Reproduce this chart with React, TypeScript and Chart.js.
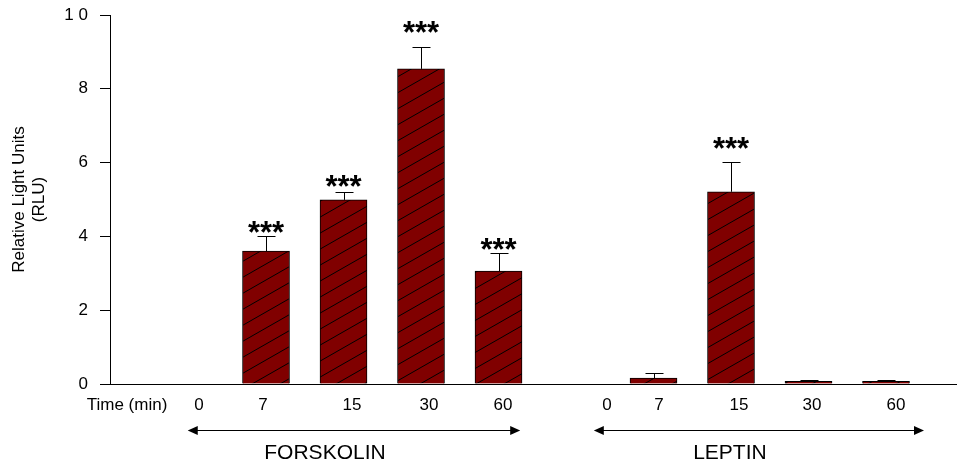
import React, { useEffect, useRef } from "react";
import { Chart, registerables } from "chart.js";

Chart.register(...registerables);

// ---------- data ----------
const axisLabel = "Time (min)";
const forskolinTimes = ["0", "7", "15", "30", "60"];
const leptinTimes = ["0", "7", "15", "30", "60"];
const forskolinValues = [0, 3.6, 4.99, 8.54, 3.06];
const forskolinErrors = [0, 0.4, 0.21, 0.6, 0.5];
const leptinValues = [0, 0.16, 5.21, 0.07, 0.07];
const leptinErrors = [0, 0.15, 0.8, 0.05, 0.05];
const forskolinSignificant = [false, true, true, true, true];
const leptinSignificant = [false, false, true, false, false];
const groupNames = ["FORSKOLIN", "LEPTIN"];
const yTickValues = [0, 2, 4, 6, 8, 10];
const yTickLabels = ["0", "2", "4", "6", "8", "1 0"];
const yTitle = ["Relative Light Units", "(RLU)"];

// ---------- layout / style constants ----------
const W = 957;
const H = 464;
const FONT = "'Liberation Sans', Arial, Helvetica, sans-serif";
const BAR_FILL = "#800000";
const LABEL_NUDGE = [16, 10.5, -3, 8.5, 8, 4.5, 31, 5.5, 8, 3.5, 10];
const STAR_GAP = [0, 0, 9, 11, 20, 9, 0, 0, 19, 0, 0];
const ARROW_SPANS = [
  [0.99, 5.28],
  [6.23, 10.49],
];
const GROUP_LABEL_SHIFT = -29;

const categories = [axisLabel, ...forskolinTimes, ...leptinTimes];
const allValues: (number | null)[] = [null, ...forskolinValues, ...leptinValues];
const allErrors = [0, ...forskolinErrors, ...leptinErrors];
const allSignificant = [false, ...forskolinSignificant, ...leptinSignificant];

function makeHatch(): CanvasPattern | string {
  const tw = 28;
  const th = 16;
  const c = document.createElement("canvas");
  c.width = tw;
  c.height = th;
  const g = c.getContext("2d");
  if (!g) return BAR_FILL;
  g.fillStyle = BAR_FILL;
  g.fillRect(0, 0, tw, th);
  g.strokeStyle = "#000";
  g.lineWidth = 1;
  for (const dx of [-tw, 0, tw]) {
    g.beginPath();
    g.moveTo(dx - 2, th + (2 * th) / tw);
    g.lineTo(dx + tw + 2, -(2 * th) / tw);
    g.stroke();
  }
  const p = g.createPattern(c, "repeat");
  return p || BAR_FILL;
}

const annotations = {
  id: "annotations",
  afterDatasetsDraw(chart: any) {
    const ctx = chart.ctx;
    const xs = chart.scales.x;
    const ys = chart.scales.y;
    const meta = chart.getDatasetMeta(0);
    ctx.save();
    // error bars + stars
    allValues.forEach((v, i) => {
      if (v === null) return;
      const el = meta.data[i];
      if (!el) return;
      const cx = Math.round(el.x) + 0.5;
      const err = allErrors[i];
      const yTop = ys.getPixelForValue(v);
      const yErr = ys.getPixelForValue(v + err);
      if (err > 0) {
        ctx.strokeStyle = "#000";
        ctx.lineWidth = 1;
        ctx.beginPath();
        ctx.moveTo(cx, yTop);
        ctx.lineTo(cx, Math.round(yErr) + 0.5);
        ctx.moveTo(cx - 9, Math.round(yErr) + 0.5);
        ctx.lineTo(cx + 9, Math.round(yErr) + 0.5);
        ctx.stroke();
      }
      if (allSignificant[i]) {
        ctx.font = `bold 31px ${FONT}`;
        ctx.fillStyle = "#000";
        ctx.textAlign = "center";
        ctx.textBaseline = "alphabetic";
        const m = ctx.measureText("***");
        const mid = (m.actualBoundingBoxAscent - m.actualBoundingBoxDescent) / 2;
        const centerY = yErr - STAR_GAP[i];
        ctx.fillText("***", el.x, centerY + mid);
      }
    });
    // category labels
    ctx.font = `17px ${FONT}`;
    ctx.fillStyle = "#000";
    ctx.textAlign = "center";
    ctx.textBaseline = "middle";
    categories.forEach((lab, i) => {
      ctx.fillText(lab, xs.getPixelForValue(i) + LABEL_NUDGE[i], 405);
    });
    // arrows
    const ay = 430.5;
    ARROW_SPANS.forEach(([a, b], gi) => {
      const x1 = xs.getPixelForValue(a);
      const x2 = xs.getPixelForValue(b);
      ctx.strokeStyle = "#000";
      ctx.lineWidth = 1;
      ctx.beginPath();
      ctx.moveTo(x1 + 5, ay);
      ctx.lineTo(x2 - 5, ay);
      ctx.stroke();
      ctx.fillStyle = "#000";
      ctx.beginPath();
      ctx.moveTo(x1, ay);
      ctx.lineTo(x1 + 10, ay - 4.5);
      ctx.lineTo(x1 + 10, ay + 4.5);
      ctx.closePath();
      ctx.fill();
      ctx.beginPath();
      ctx.moveTo(x2, ay);
      ctx.lineTo(x2 - 10, ay - 4.5);
      ctx.lineTo(x2 - 10, ay + 4.5);
      ctx.closePath();
      ctx.fill();
      ctx.font = `21px ${FONT}`;
      ctx.textAlign = "center";
      ctx.textBaseline = "middle";
      ctx.fillText(groupNames[gi], (x1 + x2) / 2 + GROUP_LABEL_SHIFT, 453);
    });
    ctx.restore();
  },
};

export default function App() {
  const ref = useRef<HTMLCanvasElement | null>(null);
  useEffect(() => {
    if (!ref.current) return;
    const hatch = makeHatch();
    const chart = new Chart(ref.current, {
      type: "bar",
      data: {
        datasets: [
          {
            data: allValues.map((v, i) => ({ x: i, y: v })) as any,
            backgroundColor: hatch as any,
            borderColor: "#000",
            borderWidth: 1,
            borderSkipped: "bottom",
            barThickness: 47,
          },
        ],
      },
      options: {
        animation: false,
        responsive: false,
        layout: { padding: { top: 15, left: 0, right: 0, bottom: 0 } },
        plugins: {
          legend: { display: false },
          tooltip: { enabled: false },
        },
        scales: {
          x: {
            type: "linear",
            offset: false,
            min: -0.013,
            max: 10.916,
            ticks: { display: false },
            grid: { display: false, drawTicks: false, offset: false },
            border: { display: true, color: "#000", width: 1 },
            afterFit: (s: any) => {
              s.height = 80;
              s.paddingLeft = 0;
              s.paddingRight = 0;
            },
          },
          y: {
            min: 0,
            max: 10,
            afterBuildTicks: (s: any) => {
              s.ticks = yTickValues.map((v) => ({ value: v }));
            },
            ticks: {
              color: "#000",
              padding: 12,
              font: { family: FONT, size: 17 },
              callback: (v: any) => {
                const idx = yTickValues.indexOf(Number(v));
                return idx >= 0 ? yTickLabels[idx] : "";
              },
            },
            grid: {
              drawOnChartArea: false,
              drawTicks: true,
              tickLength: 10,
              color: "#000",
              lineWidth: 1,
            },
            border: { display: true, color: "#000", width: 1 },
            title: {
              display: true,
              text: yTitle,
              color: "#000",
              font: { family: FONT, size: 17, lineHeight: 1.15 },
              padding: { top: 10, bottom: 0 },
            },
            afterFit: (s: any) => {
              s.width = 110;
              s.paddingTop = 0;
              s.paddingBottom = 0;
            },
          },
        },
      },
      plugins: [annotations],
    });
    return () => chart.destroy();
  }, []);
  return (
    <div style={{ position: "absolute", left: 0, top: 0, width: W, height: H, background: "#fff" }}>
      <canvas ref={ref} width={W} height={H} style={{ display: "block" }} />
    </div>
  );
}
